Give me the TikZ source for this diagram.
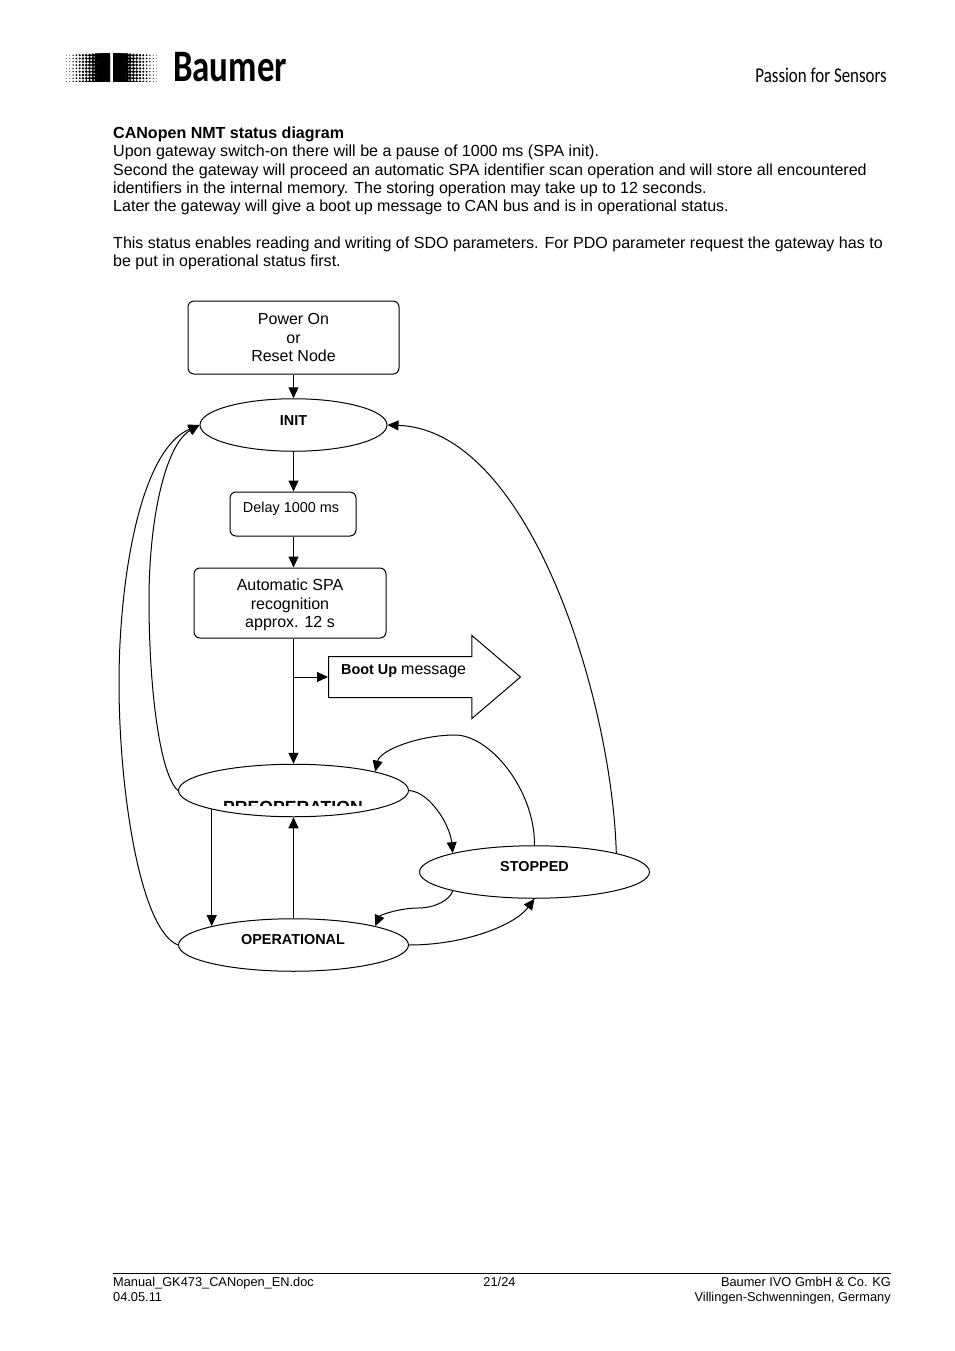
\documentclass[tikz,border=0pt]{standalone}
\usepackage{fontspec}
\setmainfont{Liberation Sans}
\newfontfamily\logofont{Carlito}
\usetikzlibrary{positioning,arrows.meta,shapes.geometric,shapes.arrows}
\definecolor{ink}{HTML}{000000}

\begin{document}
\begin{tikzpicture}[
    x=1pt, y=-1pt,
    lbox/.style={draw=ink, line width=1pt, fill=white, rounded corners=6pt, align=center, inner sep=0pt, font=\fontsize{16}{18.4}\selectfont},
    state/.style={draw=ink, line width=1pt, fill=white, ellipse, minimum width=230pt, minimum height=52.5pt, inner sep=0pt},
    statetxt/.style={inner sep=0pt, font=\fontsize{14.4}{16}\selectfont\bfseries},
    body/.style={inner sep=0pt, align=left, anchor=north west, font=\fontsize{16.05}{18.35}\selectfont},
    foot/.style={inner sep=0pt, font=\fontsize{12.8}{14.4}\selectfont},
    arr/.style={-{Triangle[length=11pt,width=10pt]}, line width=1pt, draw=ink}
]
    \useasboundingbox (0,0) rectangle (954,1351);

    % Logo
    \begin{scope}
        \clip (65,54) rectangle (110,82);
        \foreach \i in {0,...,13} {
            \foreach \j in {0,...,8} {
                \pgfmathsetmacro{\dotsize}{0.35+0.2*\i}
                \fill[ink] ({66.5+3.3*\i},{55.2+3.3*\j}) circle (\dotsize);
            }
        }
    \end{scope}
    \begin{scope}
        \clip (113,54) rectangle (158,82);
        \foreach \i in {0,...,13} {
            \foreach \j in {0,...,8} {
                \pgfmathsetmacro{\dotsize}{0.35+0.2*\i}
                \fill[ink] ({156.5-3.3*\i},{55.2+3.3*\j}) circle (\dotsize);
            }
        }
    \end{scope}
    \node[inner sep=0pt, anchor=base west, xscale=0.775, font=\fontsize{45}{45}\logofont\bfseries] (brand) at (173,82) {Baumer};
    \node[inner sep=0pt, anchor=base east, xscale=0.805, font=\fontsize{21}{21}\logofont] (slogan) at (887,83) {Passion for Sensors};

    % Intro text
    \node[body] (intro) at (113,126.5) {\textbf{CANopen NMT status diagram}\\
        Upon gateway switch-on there will be a pause of 1000 ms (SPA init).\\
        Second the gateway will proceed an automatic SPA identifier scan operation and will store all encountered\\
        identifiers in the internal memory. The storing operation may take up to 12 seconds.\\
        Later the gateway will give a boot up message to CAN bus and is in operational status.\\[18.35pt]
        This status enables reading and writing of SDO parameters. For PDO parameter request the gateway has to\\
        be put in operational status first.};

    % Boxes
    \node[lbox, minimum width=211pt, minimum height=73pt] (power) at (293.5,337.5) {Power On\\or\\Reset Node};
    \node[lbox, minimum width=126pt, minimum height=44pt] (delay) at (293,514) {};
    \node[inner sep=0pt, font=\fontsize{14.4}{16}\selectfont] (delaytxt) at (291,509) {Delay 1000 ms};
    \node[lbox, minimum width=192pt, minimum height=70pt, text depth=0pt] (spa) at (290,603) {};
    \node[inner sep=0pt, align=center, font=\fontsize{16}{18.4}\selectfont] (spatxt) at (290,605) {Automatic SPA\\recognition\\approx. 12 s};

    % States
    \node[state, minimum width=187pt] (init) at (293.5,425) {};
    \node[statetxt] (inittxt) at (293.5,421) {INIT};
    \node[state] (preop) at (293.5,790.5) {};
    \begin{scope}
        \clip (178,790) rectangle (408,805.5);
        \node[inner sep=0pt, font=\fontsize{17.6}{20}\selectfont\bfseries] (preoptxt) at (293,807) {PREOPERATION};
    \end{scope}
    \node[state] (stopped) at (534.5,872) {};
    \node[statetxt] (stoppedtxt) at (534.5,867) {STOPPED};
    \node[state] (oper) at (293.5,945) {};
    \node[statetxt] (opertxt) at (293,940) {OPERATIONAL};

    % Boot up message
    \node[draw=ink, line width=1pt, single arrow, text height=40pt, text depth=0pt, minimum height=192pt, single arrow head extend=21pt, single arrow tip angle=81, single arrow head indent=0pt, inner sep=0pt, anchor=tail] (bootup) at (328,677) {};
    \node[inner sep=0pt, anchor=west, font=\fontsize{16}{18}\selectfont] (boottxt) at (341,671) {\fontsize{14.4}{16}\selectfont\textbf{Boot Up} \fontsize{16}{18}\selectfont message};

    % Connections
    \draw[arr] (power.south) -- (init.north);
    \draw[arr] (init.south) -- (init.south |- delay.north);
    \draw[arr] (init.south |- delay.south) -- (init.south |- spa.north);
    \draw[arr] (init.south |- spa.south) -- (preop.north);
    \draw[arr] (init.south |- bootup.tail) -- (bootup.tail);
    \draw[arr] (preop.193) -- (oper.167);
    \draw[arr] (oper.north) -- (preop.south);

    % Curved transitions
    \coordinate (outerbend) at (119,683);
    \coordinate (innerbend) at (149,600);
    \coordinate (topbend) at (455,735);
    \coordinate (lowbend) at (418,908);
    \draw[arr] (oper.west) .. controls (140,930) and (119,790) .. (outerbend) .. controls (119,580) and (140,450) .. (init.west);
    \draw[arr] (preop.west) .. controls (160,775) and (149,690) .. (innerbend) .. controls (149,520) and (165,445) .. (init.west);
    \draw[arr] (stopped.13) .. controls (612,700) and (530,430) .. (init.east);
    \draw[arr] (stopped.north) .. controls (535,790) and (490,735) .. (topbend) .. controls (420,735) and (380,750) .. (preop.13);
    \draw[arr] (preop.east) .. controls (430,792) and (450,825) .. (stopped.167);
    \draw[arr] (stopped.193) .. controls (450,900) and (435,908) .. (lowbend) .. controls (400,908) and (380,915) .. (oper.13);
    \draw[arr] (oper.east) .. controls (465,945) and (515,925) .. (stopped.south);

    % Footer
    \coordinate (footl) at (113,1273);
    \coordinate (footr) at (891,1273);
    \draw[ink, line width=0.7pt] (footl) -- (footr);
    \node[foot, anchor=base west] (doc) at (113,1286) {Manual\_GK473\_CANopen\_EN.doc};
    \node[foot, anchor=base west] (date) at (113,1301) {04.05.11};
    \node[foot, anchor=base] (page) at (499.5,1286) {21/24};
    \node[foot, anchor=base east] (firm) at (891,1286) {Baumer IVO GmbH \& Co. KG};
    \node[foot, anchor=base east] (city) at (891,1301) {Villingen-Schwenningen, Germany};
\end{tikzpicture}
\end{document}
